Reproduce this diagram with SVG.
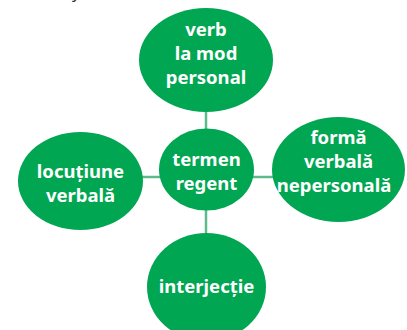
<svg xmlns="http://www.w3.org/2000/svg" width="407" height="330" viewBox="0 0 407 330">
<style>
.n{fill:#00a651}
.t{font-family:"Noto Sans","Open Sans","Liberation Sans",sans-serif;font-weight:bold;font-size:18.5px;fill:#fff;text-anchor:middle}
.c{stroke:#5dbb8b;stroke-width:2.5;fill:none}
</style>
<rect width="407" height="330" fill="#fff"/>
<text x="72" y="-2" style="font-family:'Noto Sans',sans-serif;font-size:16px;fill:#333">y</text>
<g id="connectors">
<line class="c" x1="206" y1="110" x2="206" y2="130"/>
<line class="c" x1="206" y1="208" x2="206" y2="236"/>
<line class="c" x1="140" y1="177" x2="162" y2="177"/>
<line class="c" x1="251" y1="177" x2="275" y2="177"/>
</g>
<g id="verb">
<ellipse class="n" cx="206" cy="60" rx="67" ry="52"/>
<text class="t" x="206" y="36">verb</text>
<text class="t" x="206" y="60">la mod</text>
<text class="t" x="206" y="84">personal</text>
</g>
<g id="termen">
<ellipse class="n" cx="206.5" cy="169.5" rx="47.5" ry="41"/>
<text class="t" x="206.5" y="166">termen</text>
<text class="t" x="206.5" y="190">regent</text>
</g>
<g id="locutiune">
<ellipse class="n" cx="80.5" cy="181" rx="62.5" ry="49"/>
<text class="t" x="80.5" y="178">locuțiune</text>
<text class="t" x="80.5" y="202">verbală</text>
</g>
<g id="forma">
<ellipse class="n" cx="338.5" cy="169.5" rx="66.5" ry="52.5"/>
<text class="t" x="338.5" y="144">formă</text>
<text class="t" x="338.5" y="168">verbală</text>
<text class="t" x="334" y="192">nepersonală</text>
</g>
<g id="interjectie">
<ellipse class="n" cx="206.5" cy="287" rx="59.5" ry="54"/>
<text class="t" x="206.5" y="293">interjecție</text>
</g>
</svg>
